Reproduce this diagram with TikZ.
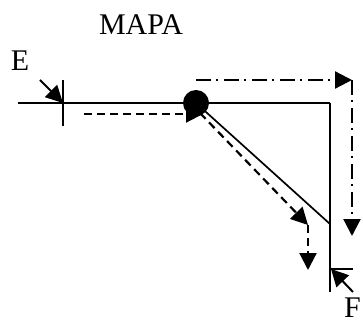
\documentclass[tikz,border=0pt]{standalone}
\usepackage{fontspec}
\setmainfont{Liberation Serif}
\usetikzlibrary{arrows.meta}
\tikzset{
  lbl/.style={inner sep=0pt,font=\fontsize{30}{32}\selectfont},
  tipped/.style={-{Triangle[length=17pt,width=17pt]}},
  dashline/.style={line width=2.2pt,dash pattern=on 8pt off 5pt},
  dotline/.style={line width=2.2pt,dash pattern=on 15pt off 5pt on 2pt off 6pt},
}
\begin{document}
\begin{tikzpicture}[x=1pt,y=-1pt]
  \useasboundingbox (0,0) rectangle (363,320);
  % profile of the part
  \coordinate (start) at (18,103);
  \coordinate (corner) at (330,103);
  \coordinate (bevel) at (330,224);
  \coordinate (bottom) at (330,292);
  \node [circle,fill=black,inner sep=0pt,minimum size=26pt] (tool) at (196,103) {};
  \draw [line width=2.2pt] (start)-- (tool.center);
  \draw [line width=1.7pt] (tool.center)-- (corner);
  \draw [line width=1.7pt] (corner)-- (bottom);
  \draw [line width=1.7pt] (tool.center)-- (bevel);
  % entry mark
  \coordinate (etop) at (63,80);
  \coordinate (ebot) at (63,126);
  \coordinate (efoot) at (63,103);
  \coordinate (efrom) at (40,80);
  \draw [line width=1.5pt] (etop)-- (ebot);
  \draw [tipped,line width=2pt] (efrom)-- (efoot);
  % exit mark
  \coordinate (fleft) at (331,269);
  \coordinate (fright) at (353,269);
  \coordinate (ffrom) at (353,292);
  \draw [line width=1.5pt] (fleft)-- (fright);
  \draw [tipped,line width=2pt] (ffrom)-- (fleft);
  % dashed pass
  \coordinate (d1) at (84,114);
  \coordinate (d2) at (203,114);
  \coordinate (d3) at (200,113);
  \coordinate (d4) at (308,225);
  \coordinate (d5) at (308,270);
  \draw [tipped,dashline] (d1)-- (d2);
  \draw [tipped,dashline] (d3)-- (d4);
  \draw [tipped,dashline] (d4)-- (d5);
  % dash-dot pass
  \coordinate (c1) at (196,80);
  \coordinate (c2) at (352,80);
  \coordinate (c3) at (352,236);
  \draw [tipped,dotline] (c1)-- (c2);
  \draw [tipped,dotline] (c2)-- (c3);
  % labels
  \node [lbl,anchor=base] (title) at (141,35) {MAPA};
  \node [lbl,anchor=base] (elabel) at (20,71) {E};
  \node [lbl,anchor=base west] (flabel) at (344,317) {F};
\end{tikzpicture}
\end{document}
